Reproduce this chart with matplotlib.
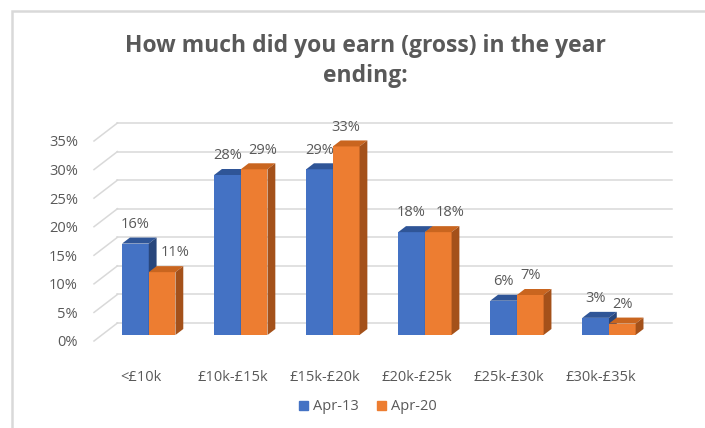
import numpy as np
import matplotlib.pyplot as plt
from matplotlib.patches import Polygon, Patch, Rectangle

# chart data
categories = ["<£10k", "£10k-£15k", "£15k-£20k", "£20k-£25k", "£25k-£30k", "£30k-£35k"]
apr13 = [16, 28, 29, 18, 6, 3]
apr20 = [11, 29, 33, 18, 7, 2]
series_names = ["Apr-13", "Apr-20"]
y_ticks = [0, 5, 10, 15, 20, 25, 30, 35]

# colours: front, top, side
blue = ("#4472C4", "#2F5597", "#28467C")
orange = ("#ED7D31", "#C9651F", "#A4511A")
text_col = "#595959"
grid_col = "#D9D9D9"

# fake 3d: one depth step in data units
DX = 0.085
DY = 1.05
W = 0.29
X_LEFT, X_RIGHT = -0.51, 5.52

# label nudges (in category units) to keep labels apart, like excel does
nudge_13 = [0, 0, 0, 0, 0, 0]
nudge_20 = [0.14, 0.09, 0, 0.13, 0, 0]

plt.rcParams['font.family'] = ['Open Sans', 'DejaVu Sans']

fig = plt.figure(figsize=(7.05, 4.28), dpi=100)
ax = fig.add_axes([94/705, 87/428, 555/705, 200/428])
ax.set_xlim(X_LEFT, X_RIGHT)
ax.set_ylim(0, 35)

# walls: back gridlines + left diagonals
for v in y_ticks:
    ax.plot([X_LEFT + 3*DX, X_RIGHT + 3*DX], [v + 3*DY, v + 3*DY], color=grid_col, lw=1.1, zorder=0, clip_on=False)
    ax.plot([X_LEFT, X_LEFT + 3*DX], [v, v + 3*DY], color=grid_col, lw=1.1, zorder=0, clip_on=False)


def bar3d(x0, h, cols, z=1):
    ox, oy = x0 + z*DX, z*DY
    ax.bar(ox, h, width=W, bottom=oy, align='edge', color=cols[0], lw=0, zorder=2)
    top = [(ox, h + oy), (ox + W, h + oy), (ox + W + DX, h + oy + DY), (ox + DX, h + oy + DY)]
    side = [(ox + W, oy), (ox + W + DX, oy + DY), (ox + W + DX, h + oy + DY), (ox + W, h + oy)]
    ax.add_patch(Polygon(top, closed=True, color=cols[1], lw=0, zorder=2, clip_on=False))
    ax.add_patch(Polygon(side, closed=True, color=cols[2], lw=0, zorder=2, clip_on=False))


for i in range(len(categories)):
    bar3d(i - W, apr13[i], blue)
    bar3d(i, apr20[i], orange)
    ax.text(i - W/2 + DX + nudge_13[i], apr13[i] + 2*DY + 2.3, f"{apr13[i]}%",
            ha='center', va='center', fontsize=10.5, color=text_col, clip_on=False)
    ax.text(i + W/2 + DX + nudge_20[i], apr20[i] + 2*DY + 2.3, f"{apr20[i]}%",
            ha='center', va='center', fontsize=10.5, color=text_col, clip_on=False)

ax.set_yticks(y_ticks)
ax.set_yticklabels([f"{v}%" for v in y_ticks])
ax.set_xticks(range(len(categories)))
ax.set_xticklabels(categories)
ax.tick_params(axis='y', length=0, pad=11.5, labelsize=10.5, labelcolor=text_col)
ax.tick_params(axis='x', length=0, pad=21, labelsize=10.5, labelcolor=text_col)
for s in ax.spines.values():
    s.set_visible(False)
ax.patch.set_alpha(0)

fig.text(365/705, 1 - 61/428, "How much did you earn (gross) in the year\nending:",
         ha='center', va='center', fontsize=16.5, fontweight='bold', color=text_col, linespacing=1.3)

handles = [Patch(color=blue[0]), Patch(color=orange[0])]
fig.legend(handles, series_names, loc='center', bbox_to_anchor=(368/705, 1 - 407/428), ncol=2,
           frameon=False, handlelength=0.6, handleheight=0.6, handletextpad=0.4, columnspacing=1.2,
           prop={'size': 10.5}, labelcolor=text_col)

# chart area frame (only top/left edges show in the crop)
fig.add_artist(Rectangle((12/705, -0.2), 1.2, 1.2 - 11/428, transform=fig.transFigure,
                         fill=False, edgecolor=grid_col, lw=1.8))

fig.savefig("out.png", dpi=100)
